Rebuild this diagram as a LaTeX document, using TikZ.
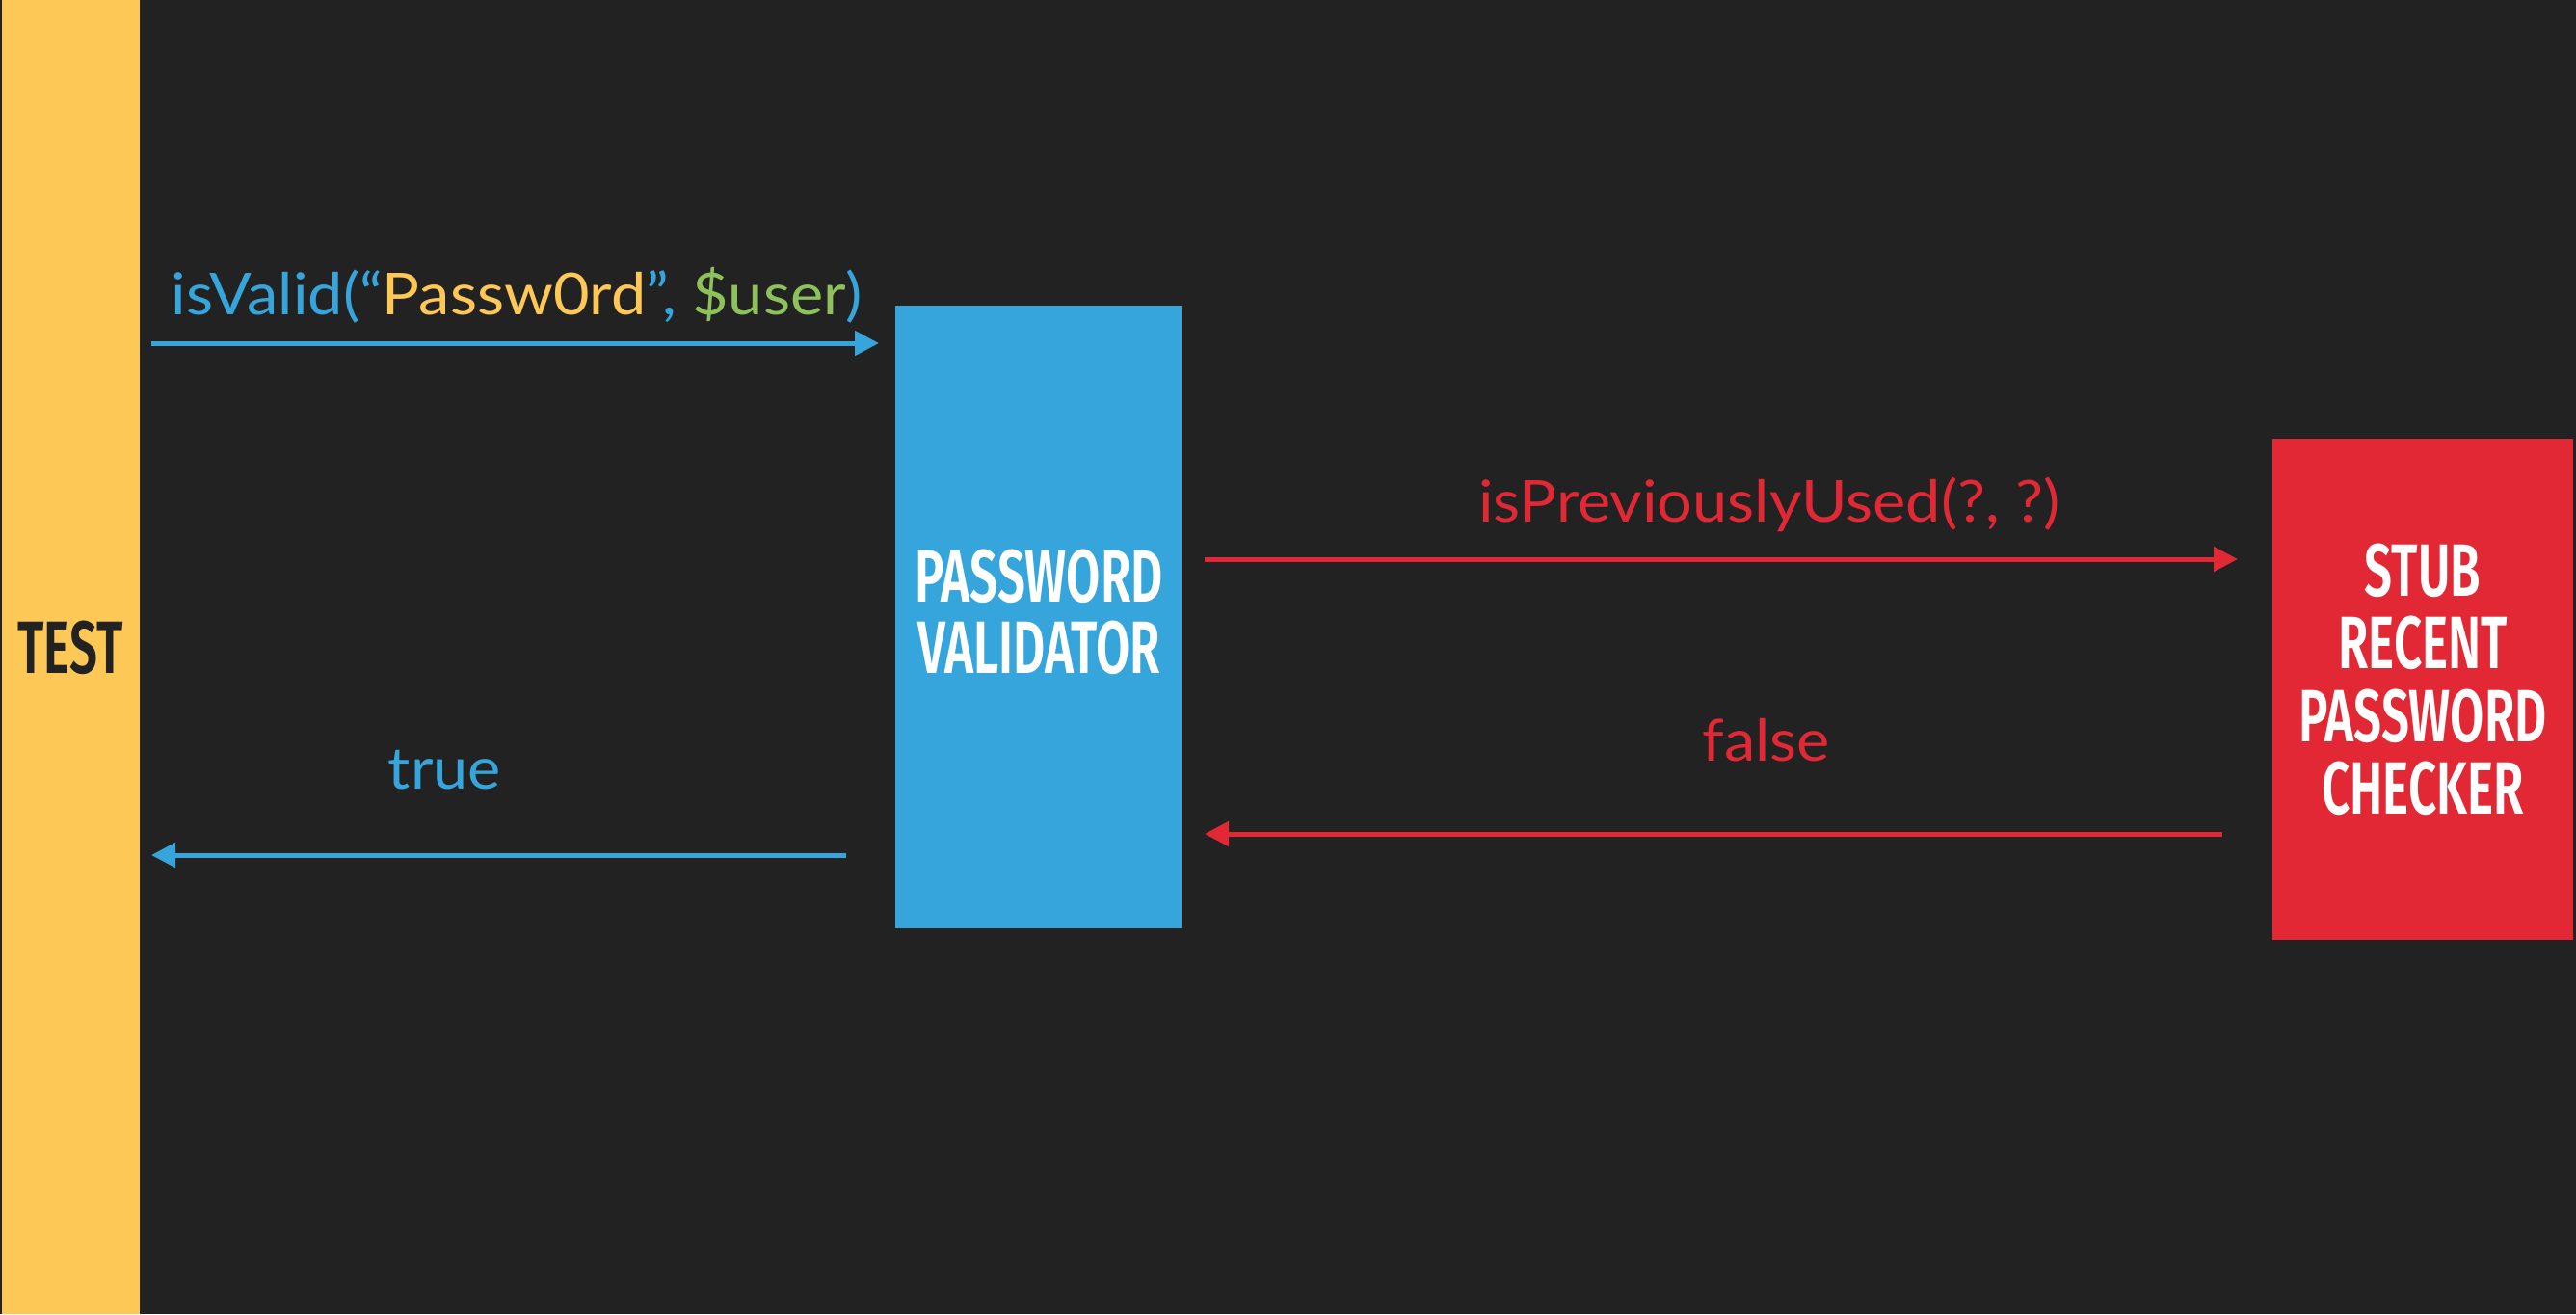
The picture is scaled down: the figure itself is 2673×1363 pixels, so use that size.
\documentclass[tikz,border=0pt]{standalone}
\usepackage{fontspec}
\usetikzlibrary{arrows.meta}
\newfontfamily\labelfont[FakeStretch=1.08]{Lato}
\newfontfamily\titlefont[FakeStretch=0.665]{Fira Sans SemiBold}
\definecolor{bg}{HTML}{222222}
\definecolor{testyellow}{HTML}{FEC856}
\definecolor{valblue}{HTML}{35A5DB}
\definecolor{stubred}{HTML}{E22834}
\definecolor{arggreen}{HTML}{8DC15B}
\begin{document}
\begin{tikzpicture}[x=1pt,y=-1pt,
  box/.style={draw=none, inner sep=0pt, outer sep=0pt},
  title/.style={font=\titlefont\fontsize{77}{74}\selectfont, text=white, align=center, inner sep=0pt},
  lbl/.style={font=\labelfont\fontsize{60}{72}\selectfont, anchor=base, inner sep=0pt},
  arr/.style={line width=5pt, -{Triangle[length=25pt,width=25pt]}}]
  % page background
  \fill[bg] (0,0) rectangle (2673,1363);
  % participants
  \node[box, fill=testyellow, minimum width=143pt, minimum height=1363pt] (test) at (73.5,681.5) {};
  \node[title, text=bg] (testlbl) at (73,671.5) {TEST};
  \node[box, fill=valblue, minimum width=297pt, minimum height=646pt] (validator) at (1077.5,640) {};
  \node[title] (vallbl) at (1078,635) {PASSWORD\\VALIDATOR};
  \node[box, fill=stubred, minimum width=312pt, minimum height=520pt] (stub) at (2514,715) {};
  \node[title, font=\titlefont\fontsize{77}{75.5}\selectfont] (stublbl) at (2514,705) {STUB\\RECENT\\PASSWORD\\CHECKER};
  % message rows
  \coordinate (r1) at (0,356);
  \coordinate (r2) at (0,580);
  \coordinate (r3) at (0,865);
  \coordinate (r4) at (0,887);
  \draw[arr, valblue, shorten <=12pt, shorten >=17pt] (test.east |- r1) -- (validator.west |- r1);
  \draw[arr, stubred, shorten <=24pt, shorten >=36pt] (validator.east |- r2) -- (stub.west |- r2);
  \draw[arr, stubred, shorten <=52pt, shorten >=24pt] (stub.west |- r3) -- (validator.east |- r3);
  \draw[arr, valblue, shorten <=51pt, shorten >=12pt] (validator.west |- r4) -- (test.east |- r4);
  % message labels
  \node[lbl, text=valblue] (call) at (536.5,326) {isValid(“{\color{testyellow}Passw0rd}”, {\color{arggreen}\$user})};
  \node[lbl, text=stubred] (query) at (1836,541) {isPreviouslyUsed(?, ?)};
  \node[lbl, text=stubred] (answer) at (1833,789) {false};
  \node[lbl, text=valblue] (result) at (461.5,818) {true};
\end{tikzpicture}
\end{document}
